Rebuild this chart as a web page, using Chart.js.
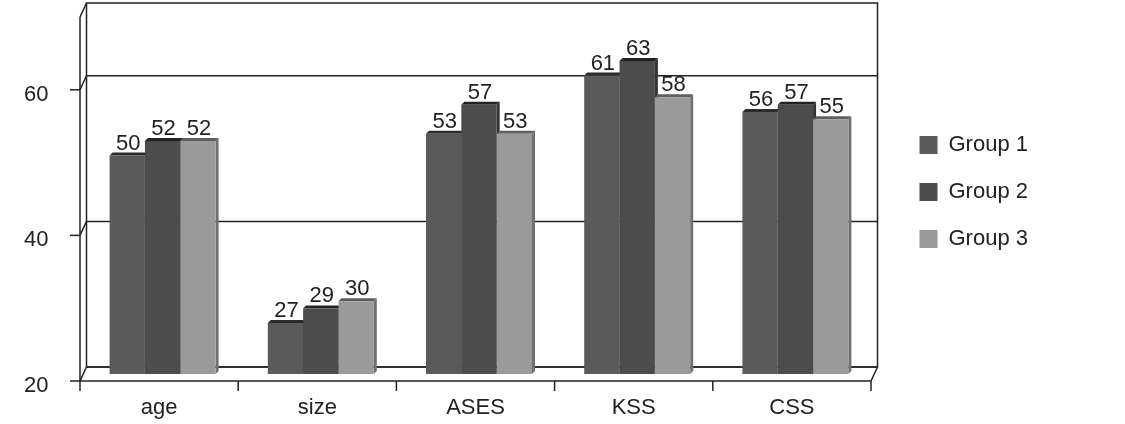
<!DOCTYPE html>
<html>
<head>
<meta charset="utf-8">
<script src="https://cdn.jsdelivr.net/npm/chart.js@4.4.0/dist/chart.umd.min.js"></script>
<style>
  body { margin: 0; background: #fff; }
  #wrap { width: 1125px; height: 424px; }
</style>
</head>
<body>
<div id="wrap"><canvas id="barChart"></canvas></div>
<script>
// chart values
var categories = ["age", "size", "ASES", "KSS", "CSS"];
var seriesNames = ["Group 1", "Group 2", "Group 3"];
var group1 = [50, 27, 53, 61, 56];
var group2 = [52, 29, 57, 63, 57];
var group3 = [52, 30, 53, 58, 55];
var yTicks = [20, 40, 60];

// greys for front / top / side faces
var fillColors = ["#5a5a5a", "#4c4c4c", "#9a9a9a"];
var topColors = ["#2c2c2c", "#232323", "#5f5f5f"];
var sideColors = ["#3b3b3b", "#333333", "#707070"];

var inkColor = "#222";
var fontFamily = "'Liberation Sans', Arial, sans-serif";
var FX = -3.5, FY = 7;   // front plane offset
var BX = 3, BY = -7;     // back wall offset
var D = 3;               // bar depth

Chart.defaults.font.family = fontFamily;
Chart.defaults.font.size = 22;
Chart.defaults.color = inkColor;

// draws the 3d box (back wall, floor, left side) and the bar top/side faces
var frame3d = {
  id: "frame3d",
  afterLayout: function (chart) {
    // push legend items right without widening the legend box
    chart.legend.left += 20;
    chart.legend.right += 20;
  },
  beforeDatasetsDraw: function (chart) {
    var ctx = chart.ctx;
    var xs = chart.scales.x, ys = chart.scales.y;
    var L = xs.left, R = xs.right;
    var T = ys.getPixelForValue(ys.max), B = ys.getPixelForValue(ys.min);
    var step = (R - L) / categories.length;

    ctx.save();
    ctx.strokeStyle = inkColor;
    ctx.lineWidth = 1.5;

    function line(x1, y1, x2, y2) {
      ctx.beginPath();
      ctx.moveTo(x1, y1);
      ctx.lineTo(x2, y2);
      ctx.stroke();
    }

    // back wall
    ctx.strokeRect(L + BX, T + BY, R - L, B - T);
    yTicks.forEach(function (v) {
      var py = ys.getPixelForValue(v);
      line(L + BX, py + BY, R + BX, py + BY);
      line(L + FX, py + FY, L + BX, py + BY);
      line(L + FX - 10, py + FY, L + FX, py + FY);
    });
    // left side and top corner
    line(L + FX, T + FY, L + FX, B + FY);
    line(L + FX, T + FY, L + BX, T + BY);
    // floor front edge and right corner
    line(L + FX, B + FY, R + FX, B + FY);
    line(R + FX, B + FY, R + BX, B + BY);
    // category ticks
    for (var i = 0; i <= categories.length; i++) {
      var px = L + i * step + FX;
      line(px, B + FY, px, B + FY + 10);
    }

    // bar top and side faces (front faces are drawn over these)
    chart.data.datasets.forEach(function (ds, di) {
      chart.getDatasetMeta(di).data.forEach(function (bar) {
        var l = bar.x - bar.width / 2, r = bar.x + bar.width / 2;
        var t = bar.y, b = bar.base;
        ctx.fillStyle = sideColors[di];
        ctx.beginPath();
        ctx.moveTo(r, t);
        ctx.lineTo(r + D, t - D);
        ctx.lineTo(r + D, b - D);
        ctx.lineTo(r, b);
        ctx.closePath();
        ctx.fill();
        ctx.fillStyle = topColors[di];
        ctx.beginPath();
        ctx.moveTo(l, t);
        ctx.lineTo(l + D, t - D);
        ctx.lineTo(r + D, t - D);
        ctx.lineTo(r, t);
        ctx.closePath();
        ctx.fill();
      });
    });
    ctx.restore();
  },
  afterDatasetsDraw: function (chart) {
    var ctx = chart.ctx;
    ctx.save();
    ctx.fillStyle = inkColor;
    ctx.font = "22px " + fontFamily;
    ctx.textAlign = "center";
    ctx.textBaseline = "alphabetic";
    chart.data.datasets.forEach(function (ds, di) {
      chart.getDatasetMeta(di).data.forEach(function (bar, i) {
        ctx.fillText(ds.data[i], bar.x + 1, bar.y - 6);
      });
    });
    ctx.restore();
  }
};

var ctx = document.getElementById("barChart").getContext("2d");

var myChart = new Chart(ctx, {
  type: "bar",
  data: {
    labels: categories,
    datasets: [
      { label: seriesNames[0], data: group1, backgroundColor: fillColors[0] },
      { label: seriesNames[1], data: group2, backgroundColor: fillColors[1] },
      { label: seriesNames[2], data: group3, backgroundColor: fillColors[2] },
    ],
  },
  options: {
    responsive: true,
    maintainAspectRatio: false,
    animation: false,
    datasets: {
      bar: { categoryPercentage: 0.67, barPercentage: 1.0, borderWidth: 0, base: 20 },
    },
    layout: { padding: { left: 0, top: 10, right: 107, bottom: 0 } },
    scales: {
      x: {
        grid: { display: false },
        border: { display: false },
        ticks: { padding: 13, labelOffset: -3.5, maxRotation: 0, autoSkip: false },
        afterFit: function (scale) {
          scale.height = 50;
          scale.paddingLeft = 0;
          scale.paddingRight = 0;
        },
      },
      y: {
        min: 20,
        max: 70,
        grid: { display: false },
        border: { display: false },
        ticks: { padding: 27, labelOffset: 12 },
        afterBuildTicks: function (scale) {
          scale.ticks = yTicks.map(function (v) { return { value: v }; });
        },
        afterFit: function (scale) {
          scale.width = 83.5;
          scale.paddingTop = 0;
          scale.paddingBottom = 0;
        },
      },
    },
    plugins: {
      legend: {
        position: "right",
        fullSize: false,
        labels: {
          boxWidth: 18,
          boxHeight: 18,
          padding: 25,
          color: inkColor,
        },
      },
      tooltip: { enabled: false },
    },
  },
  plugins: [frame3d],
});
</script>
</body>
</html>
